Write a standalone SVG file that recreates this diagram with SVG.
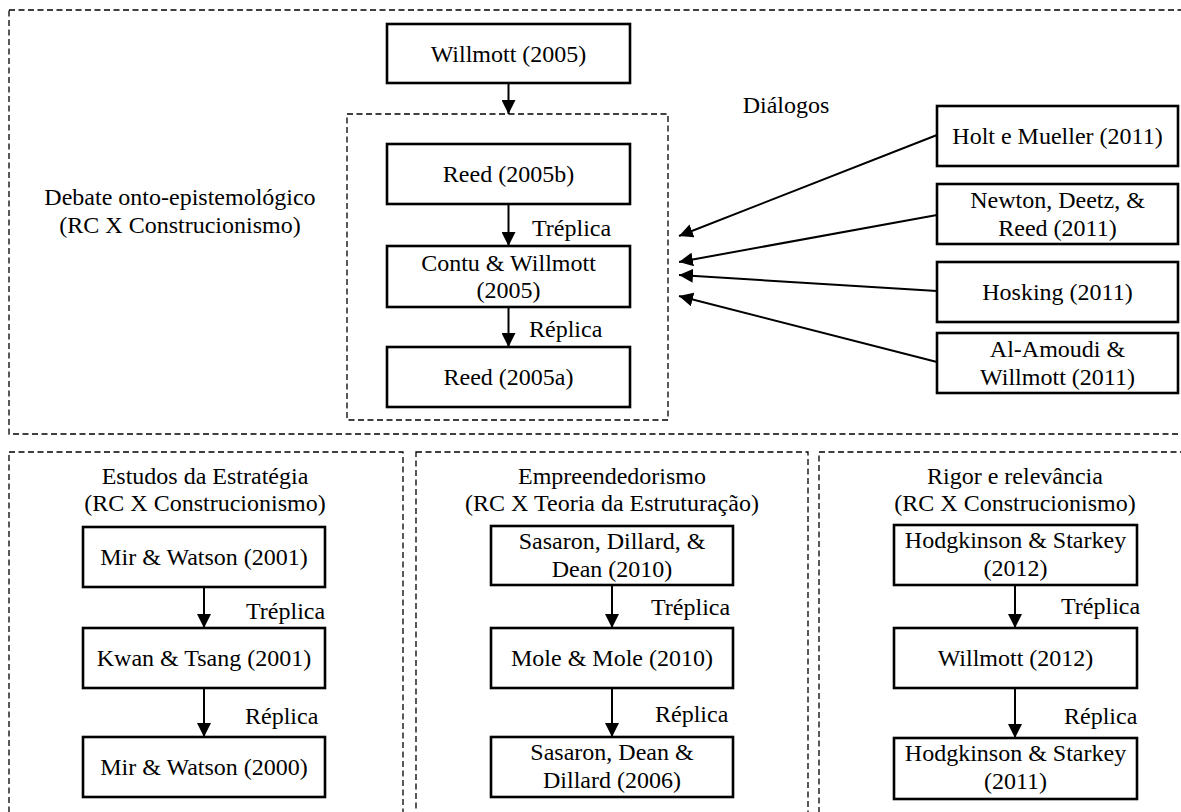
<svg xmlns="http://www.w3.org/2000/svg" width="1181" height="812" viewBox="0 0 1181 812">
<defs>
<style>
.t{font-family:"Liberation Serif","Times New Roman",serif;font-size:24px;fill:#000}
.m{text-anchor:middle}
.box{fill:#fff;stroke:#000;stroke-width:2.6}
.dash{fill:none;stroke:#000;stroke-width:1.3;stroke-dasharray:6 3.5}
.c{stroke:#000;stroke-width:2;fill:none;marker-end:url(#ah)}
</style>
<marker id="ah" viewBox="0 0 14 14" refX="14" refY="7" markerWidth="14" markerHeight="14" markerUnits="userSpaceOnUse" orient="auto">
<path d="M0,0 L14,7 L0,14 z" fill="#000"/>
</marker>
</defs>
<rect width="1181" height="812" fill="#fff"/>

<g id="frames">
<rect class="dash" x="9" y="10" width="1180" height="424"/>
<rect class="dash" x="347" y="114" width="321" height="306"/>
<rect class="dash" x="9" y="452" width="394" height="380"/>
<rect class="dash" x="416" y="452" width="392" height="380"/>
<rect class="dash" x="819" y="452" width="380" height="380"/>
</g>

<g id="labels">
<text class="t m" x="180" y="205">Debate onto-epistemológico</text>
<text class="t m" x="180" y="233">(RC X Construcionismo)</text>
<text class="t m" x="786" y="113">Diálogos</text>
<text class="t" x="532" y="236">Tréplica</text>
<text class="t" x="529" y="337">Réplica</text>
<text class="t m" x="205" y="484">Estudos da Estratégia</text>
<text class="t m" x="205" y="511">(RC X Construcionismo)</text>
<text class="t" x="246" y="619">Tréplica</text>
<text class="t" x="245" y="724">Réplica</text>
<text class="t m" x="612" y="484">Empreendedorismo</text>
<text class="t m" x="612" y="511">(RC X Teoria da Estruturação)</text>
<text class="t" x="651" y="615">Tréplica</text>
<text class="t" x="655" y="722">Réplica</text>
<text class="t m" x="1015" y="484">Rigor e relevância</text>
<text class="t m" x="1015" y="511">(RC X Construcionismo)</text>
<text class="t" x="1061" y="614">Tréplica</text>
<text class="t" x="1064" y="724">Réplica</text>
</g>

<g id="connectors">
<line class="c" x1="508.5" y1="84" x2="508.5" y2="114"/>
<line class="c" x1="508.5" y1="205" x2="508.5" y2="246"/>
<line class="c" x1="508.5" y1="308" x2="508.5" y2="347"/>
<line class="c" x1="937" y1="135" x2="679" y2="236"/>
<line class="c" x1="937" y1="215" x2="679" y2="262"/>
<line class="c" x1="937" y1="291" x2="679" y2="275"/>
<line class="c" x1="937" y1="362" x2="679" y2="296"/>
<line class="c" x1="204" y1="588" x2="204" y2="628"/>
<line class="c" x1="204" y1="689" x2="204" y2="737"/>
<line class="c" x1="612" y1="586" x2="612" y2="628"/>
<line class="c" x1="612" y1="689" x2="612" y2="737"/>
<line class="c" x1="1015" y1="586" x2="1015" y2="628"/>
<line class="c" x1="1015" y1="689" x2="1015" y2="738"/>
</g>

<g id="n-willmott2005"><rect class="box" x="387" y="24" width="243" height="59"/><text class="t m" x="508.5" y="62">Willmott (2005)</text></g>
<g id="n-reed2005b"><rect class="box" x="387" y="144" width="243" height="60"/><text class="t m" x="508.5" y="182">Reed (2005b)</text></g>
<g id="n-contu"><rect class="box" x="387" y="246" width="243" height="61"/><text class="t m" x="508.5" y="271">Contu &amp; Willmott</text><text class="t m" x="508.5" y="298">(2005)</text></g>
<g id="n-reed2005a"><rect class="box" x="387" y="347" width="243" height="60"/><text class="t m" x="508.5" y="385">Reed (2005a)</text></g>

<g id="n-holt"><rect class="box" x="937" y="106" width="241" height="60"/><text class="t m" x="1057.5" y="144">Holt e Mueller (2011)</text></g>
<g id="n-newton"><rect class="box" x="937" y="184" width="241" height="60"/><text class="t m" x="1057.5" y="208">Newton, Deetz, &amp;</text><text class="t m" x="1057.5" y="236">Reed (2011)</text></g>
<g id="n-hosking"><rect class="box" x="937" y="262" width="241" height="60"/><text class="t m" x="1057.5" y="300">Hosking (2011)</text></g>
<g id="n-alamoudi"><rect class="box" x="937" y="333" width="241" height="60"/><text class="t m" x="1057.5" y="357">Al-Amoudi &amp;</text><text class="t m" x="1057.5" y="385">Willmott (2011)</text></g>

<g id="n-mir2001"><rect class="box" x="83" y="527" width="242" height="60"/><text class="t m" x="204" y="565">Mir &amp; Watson (2001)</text></g>
<g id="n-kwan"><rect class="box" x="83" y="628" width="242" height="60"/><text class="t m" x="204" y="666">Kwan &amp; Tsang (2001)</text></g>
<g id="n-mir2000"><rect class="box" x="83" y="737" width="242" height="60"/><text class="t m" x="204" y="775">Mir &amp; Watson (2000)</text></g>

<g id="n-sasaron2010"><rect class="box" x="491" y="526" width="242" height="59"/><text class="t m" x="612" y="549">Sasaron, Dillard, &amp;</text><text class="t m" x="612" y="577">Dean (2010)</text></g>
<g id="n-mole"><rect class="box" x="491" y="628" width="242" height="60"/><text class="t m" x="612" y="666">Mole &amp; Mole (2010)</text></g>
<g id="n-sasaron2006"><rect class="box" x="491" y="737" width="242" height="60"/><text class="t m" x="612" y="760">Sasaron, Dean &amp;</text><text class="t m" x="612" y="788">Dillard (2006)</text></g>

<g id="n-hodg2012"><rect class="box" x="894" y="525" width="243" height="60"/><text class="t m" x="1015.5" y="548">Hodgkinson &amp; Starkey</text><text class="t m" x="1015.5" y="576">(2012)</text></g>
<g id="n-willmott2012"><rect class="box" x="894" y="628" width="243" height="60"/><text class="t m" x="1015.5" y="666">Willmott (2012)</text></g>
<g id="n-hodg2011"><rect class="box" x="894" y="738" width="243" height="61"/><text class="t m" x="1015.5" y="761">Hodgkinson &amp; Starkey</text><text class="t m" x="1015.5" y="789">(2011)</text></g>
</svg>
